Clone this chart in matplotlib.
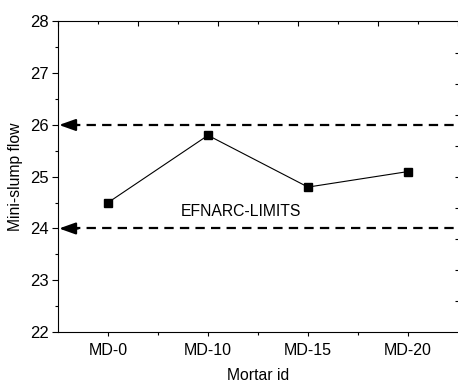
import matplotlib
matplotlib.use("Agg")
import matplotlib.pyplot as plt
from matplotlib.ticker import MultipleLocator, FixedLocator

plt.rcParams["font.family"] = ["Liberation Sans", "DejaVu Sans"]
plt.rcParams["font.size"] = 11

# ── Data ─────────────────────────────────────────────────
mortars = ["MD-0", "MD-10", "MD-15", "MD-20"]
flow = [24.5, 25.8, 24.8, 25.1]
limits = [26, 24]
limit_label = "EFNARC-LIMITS"

fig = plt.figure(figsize=(4.58, 3.83), dpi=100, facecolor="white")
ax = fig.add_axes([0.1266, 0.1332, 0.8734, 0.8107])

x = list(range(len(mortars)))
ax.plot(x, flow, color="black", lw=0.8, marker="s", markersize=5.5, zorder=5)

# limit lines with arrows at the left spine
for lim in limits:
    ax.plot([-0.37, 3.5], [lim, lim], color="black", lw=1.6,
            dashes=(4.2, 2.8), zorder=3)
    ax.annotate("", xy=(-0.49, lim), xytext=(-0.3, lim),
                arrowprops=dict(arrowstyle="-|>,head_length=0.9,head_width=0.32",
                                color="black", lw=1.6, shrinkA=0, shrinkB=0))

ax.text(1.33, 24.32, limit_label, ha="center", va="center", fontsize=11.3)

ax.set_xlim(-0.5, 3.5)
ax.set_ylim(22, 28)
ax.set_xticks(x)
ax.set_xticklabels(mortars)
ax.xaxis.set_minor_locator(FixedLocator([0.5, 1.5, 2.5]))
ax.yaxis.set_major_locator(MultipleLocator(1))
ax.yaxis.set_minor_locator(MultipleLocator(0.5))

ax.tick_params(axis="y", which="major", direction="out", length=4.5, width=0.8,
               pad=2, labelsize=12)
ax.tick_params(axis="y", which="minor", direction="out", length=2.5, width=0.8)
ax.tick_params(axis="x", which="major", direction="out", length=3, width=0.8,
               pad=5, labelsize=11.5)
ax.tick_params(axis="x", which="minor", direction="out", length=1.8, width=0.8)

ax.set_xlabel("Mortar id", labelpad=7, fontsize=11.3)
ax.set_ylabel("Mini-slump flow", labelpad=5, fontsize=11.3)

for s in ax.spines.values():
    s.set_linewidth(0.8)
ax.spines["right"].set_visible(False)

# top and right frame ticks
top = ax.twiny()
top.set_xlim(0, 5)
top.xaxis.set_major_locator(MultipleLocator(1))
top.xaxis.set_minor_locator(MultipleLocator(0.5))
top.tick_params(axis="x", which="major", direction="in", length=3.5, width=0.8, labeltop=False)
top.tick_params(axis="x", which="minor", direction="in", length=2, width=0.8)
for s in top.spines.values():
    s.set_visible(False)

right = ax.twinx()
right.set_ylim(0, 10)
right.yaxis.set_major_locator(FixedLocator([]))
right.yaxis.set_minor_locator(FixedLocator(list(range(1, 10))))
right.tick_params(axis="y", which="minor", direction="in", length=2.5, width=0.8)
for s in right.spines.values():
    s.set_visible(False)

fig.savefig("out.png", dpi=100, facecolor="white")
